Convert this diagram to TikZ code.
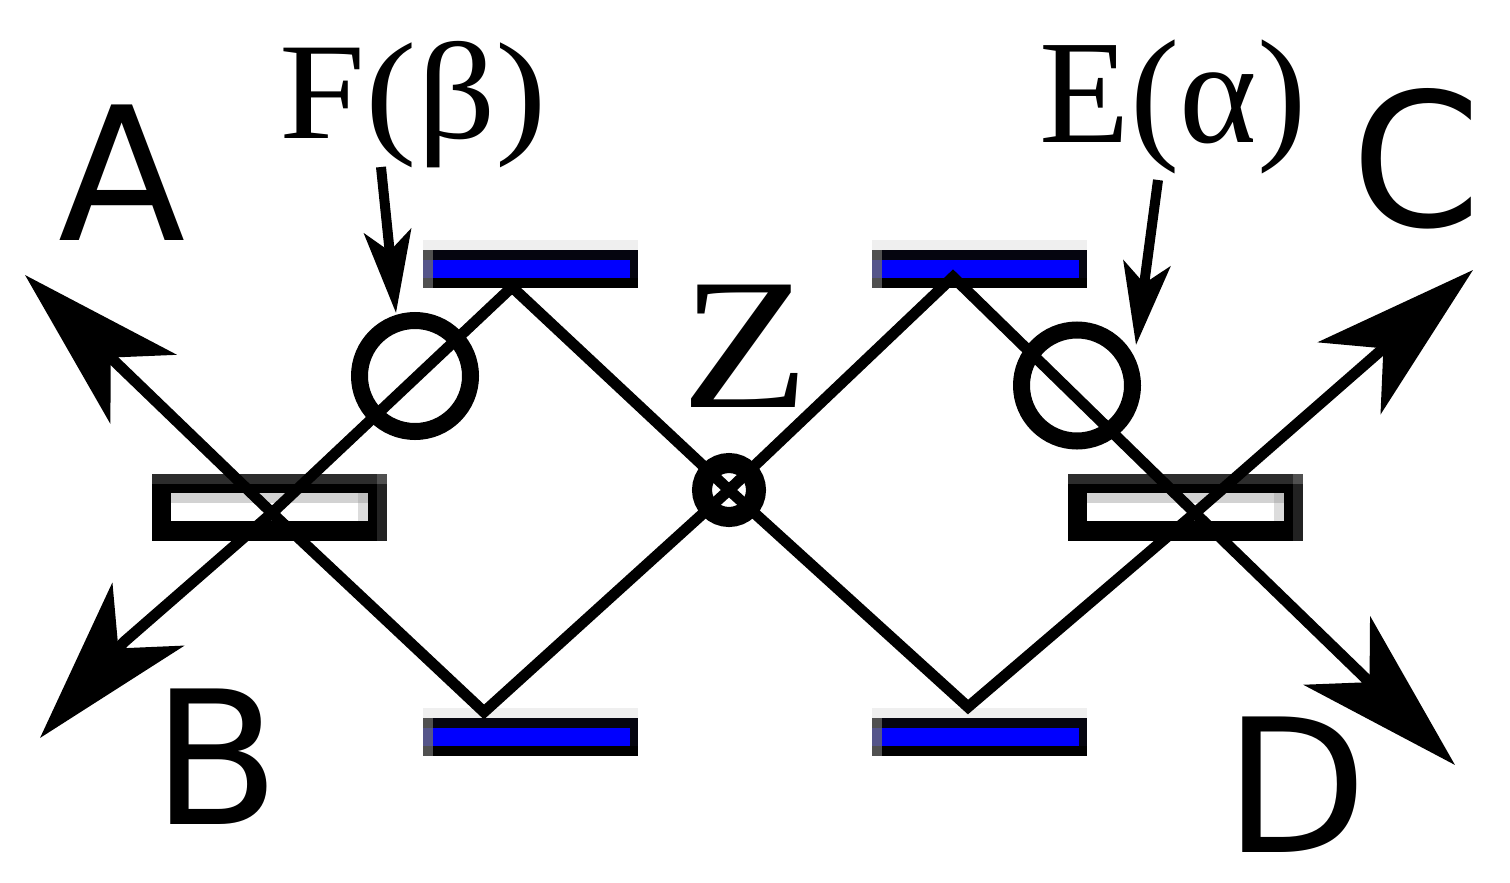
\documentclass[tikz,border=0pt]{standalone}
\usepackage{fontspec}
\setmainfont{Liberation Serif}
\newfontfamily\widefont{Liberation Serif}[FakeStretch=1.12]
\newfontfamily\portfont{DejaVu Sans}
\usetikzlibrary{arrows.meta}
\definecolor{glow}{HTML}{EFEFEF}
\definecolor{edgegrey}{HTML}{505050}
\definecolor{edgeblue}{HTML}{55558A}
\definecolor{navy}{HTML}{05050F}
\definecolor{rimtop}{HTML}{2C2C2C}
\definecolor{rimside}{HTML}{222222}
\definecolor{faceshade}{HTML}{D2D2D2}
\definecolor{faceside}{HTML}{DCDCDC}
\definecolor{facecorner}{HTML}{BDBDBD}
\tikzset{
  block/.style={anchor=north west,inner sep=0pt,outer sep=0pt,minimum width=#1},
  beamtip/.tip={Stealth[length=164pt,width=95pt,inset=45pt]},
  pointertip/.tip={Stealth[length=82pt,width=47pt,inset=20pt]},
  beam/.style={line width=11pt},
  pointer/.style={line width=10pt,-pointertip},
  phase/.style={circle,draw,line width=17pt,inner sep=0pt,minimum size=111pt},
  port/.style={anchor=base,inner sep=0pt,font=\portfont\fontsize{186}{186}\selectfont},
  serifport/.style={anchor=base,inner sep=0pt,font=\fontsize{#1}{#1}\selectfont},
  wideport/.style={anchor=base,inner sep=0pt,font=\widefont\fontsize{#1}{#1}\selectfont}
}
\begin{document}
\begin{tikzpicture}[x=1pt,y=-1pt]
\path[use as bounding box] (0,0) rectangle (1510,883);
% mirrors
\foreach \mname/\mx/\my in {mirrorFa/423/240,mirrorEa/872/240,mirrorFb/423/707.5,mirrorEb/872/707.5}{
  \node[block=215pt,minimum height=10pt,fill=glow] (\mname glow) at (\mx,\my) {};
  \node[block=215pt,minimum height=38pt,fill=navy] (\mname) at (\mx,\my+10) {};
  \node[block=215pt,minimum height=10pt,fill=black] (\mname low) at (\mx,\my+38) {};
  \node[block=197pt,minimum height=18pt,fill=blue] (\mname face) at (\mx+10,\my+20) {};
  \node[block=10pt,minimum height=38pt,fill=edgegrey] (\mname left) at (\mx,\my+10) {};
  \node[block=10pt,minimum height=18pt,fill=edgeblue] (\mname leftface) at (\mx,\my+20) {};
}
% beam splitters
\foreach \bname/\bx in {splitL/152,splitR/1068}{
  \node[block=235pt,minimum height=67pt,fill=black] (\bname) at (\bx,474) {};
  \node[block=235pt,minimum height=10pt,fill=rimtop] (\bname top) at (\bx,474) {};
  \node[block=10pt,minimum height=67pt,fill=rimside] (\bname side) at (\bx+225,474) {};
  \node[block=10pt,minimum height=10pt,fill=edgegrey] (\bname corner) at (\bx+225,474) {};
  \node[block=197pt,minimum height=28pt,fill=white] (\bname face) at (\bx+19,493) {};
  \node[block=197pt,minimum height=10pt,fill=faceshade] (\bname shade) at (\bx+19,493) {};
  \node[block=10pt,minimum height=28pt,fill=faceside] (\bname edge) at (\bx+206,493) {};
  \node[block=10pt,minimum height=10pt,fill=facecorner] (\bname dark) at (\bx+206,493) {};
}
% beam corners
\coordinate (tipA) at (25,275);
\coordinate (tipB) at (40,738);
\coordinate (neckB) at (124,642);
\coordinate (tipC) at (1473,270);
\coordinate (tipD) at (1455,765);
\coordinate (crossL) at (272,513);
\coordinate (crossR) at (1195,513);
\coordinate (peakL) at (512,287);
\coordinate (peakR) at (953,277);
\coordinate (valleyL) at (484,712);
\coordinate (valleyR) at (968,707);
\node[circle,draw,line width=20pt,inner sep=0pt,minimum size=54pt] (zplate) at (729,490) {};
\draw[beam,beamtip-beamtip] (tipA) -- (crossL) -- (valleyL) -- (zplate.center) -- (peakR) -- (crossR) -- (tipD);
\draw[beam,beamtip-beamtip] (tipB) -- (neckB) -- (crossL) -- (peakL) -- (zplate.center) -- (valleyR) -- (crossR) -- (tipC);
% phase plates
\node[phase] (plateF) at (415,376) {};
\node[phase] (plateE) at (1077,385.5) {};
\coordinate (startF) at (381,167);
\coordinate (endF) at (396,313);
\coordinate (startE) at (1158,180);
\coordinate (endE) at (1136,345);
\draw[pointer] (startF) -- (endF);
\draw[pointer] (startE) -- (endE);
% labels
\node[port] (labelA) at (122.5,240) {A};
\node[port] (labelB) at (216,824) {B};
\begin{scope}
\clip (0,0) rectangle (1471,883);
\node[port] (labelC) at (1416,226) {C};
\end{scope}
\node[port] (labelD) at (1296.5,852) {D};
\node[wideport=187] (labelZ) at (745.5,407) {Z};
\node[wideport=138] (labelF) at (413.5,138) {F(β)};
\node[serifport=148] (labelE) at (1173,142) {E(α)};
\end{tikzpicture}
\end{document}
